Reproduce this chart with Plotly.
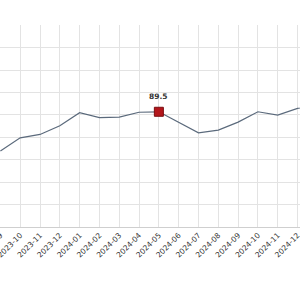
import plotly.graph_objects as go

months = ["2023-09", "2023-10", "2023-11", "2023-12", "2024-01", "2024-02",
          "2024-03", "2024-04", "2024-05", "2024-06", "2024-07", "2024-08",
          "2024-09", "2024-10", "2024-11", "2024-12", "2025-01"]
values = [87.75, 88.34, 88.49, 88.88, 89.46, 89.24, 89.26, 89.48, 89.50,
          89.03, 88.56, 88.68, 89.04, 89.50, 89.35, 89.65, 89.80]

highlight_month = "2024-05"
highlight_value = values[months.index(highlight_month)]

fig = go.Figure()
fig.add_trace(go.Scatter(
    x=months, y=values, mode="lines",
    line=dict(color="#5b6a7c", width=1.2),
    hoverinfo="skip", showlegend=False,
))
fig.add_trace(go.Scatter(
    x=[highlight_month], y=[highlight_value], mode="markers",
    marker=dict(symbol="square", size=9, color="#b3161b",
                line=dict(color="#7a0d10", width=1)),
    showlegend=False,
))
fig.add_annotation(
    x=highlight_month, y=highlight_value, text="<b>%.1f</b>" % highlight_value,
    showarrow=False, yshift=15, font=dict(size=7.5, color="#333333",
                                          family="DejaVu Sans"),
)

fig.update_layout(
    width=300, height=300,
    margin=dict(l=0, r=0, t=25, b=73),
    paper_bgcolor="white", plot_bgcolor="white",
    font=dict(family="DejaVu Sans", size=7.5, color="#333333"),
)
fig.update_xaxes(
    type="category", categoryorder="array", categoryarray=months,
    range=[-0.02, 15.124],
    showgrid=True, gridcolor="#e3e3e3", gridwidth=1,
    showline=True, linecolor="#cfcfcf", linewidth=1,
    ticks="", tickangle=-45,
    tickfont=dict(size=7.5, color="#333333", family="DejaVu Sans"),
    automargin=False, zeroline=False,
)
fig.update_yaxes(
    range=[84.362, 93.37], tick0=84.362, dtick=1,
    showgrid=True, gridcolor="#e3e3e3", gridwidth=1,
    showticklabels=False, zeroline=False, showline=False,
    automargin=False,
)

fig.write_html("out.html")
